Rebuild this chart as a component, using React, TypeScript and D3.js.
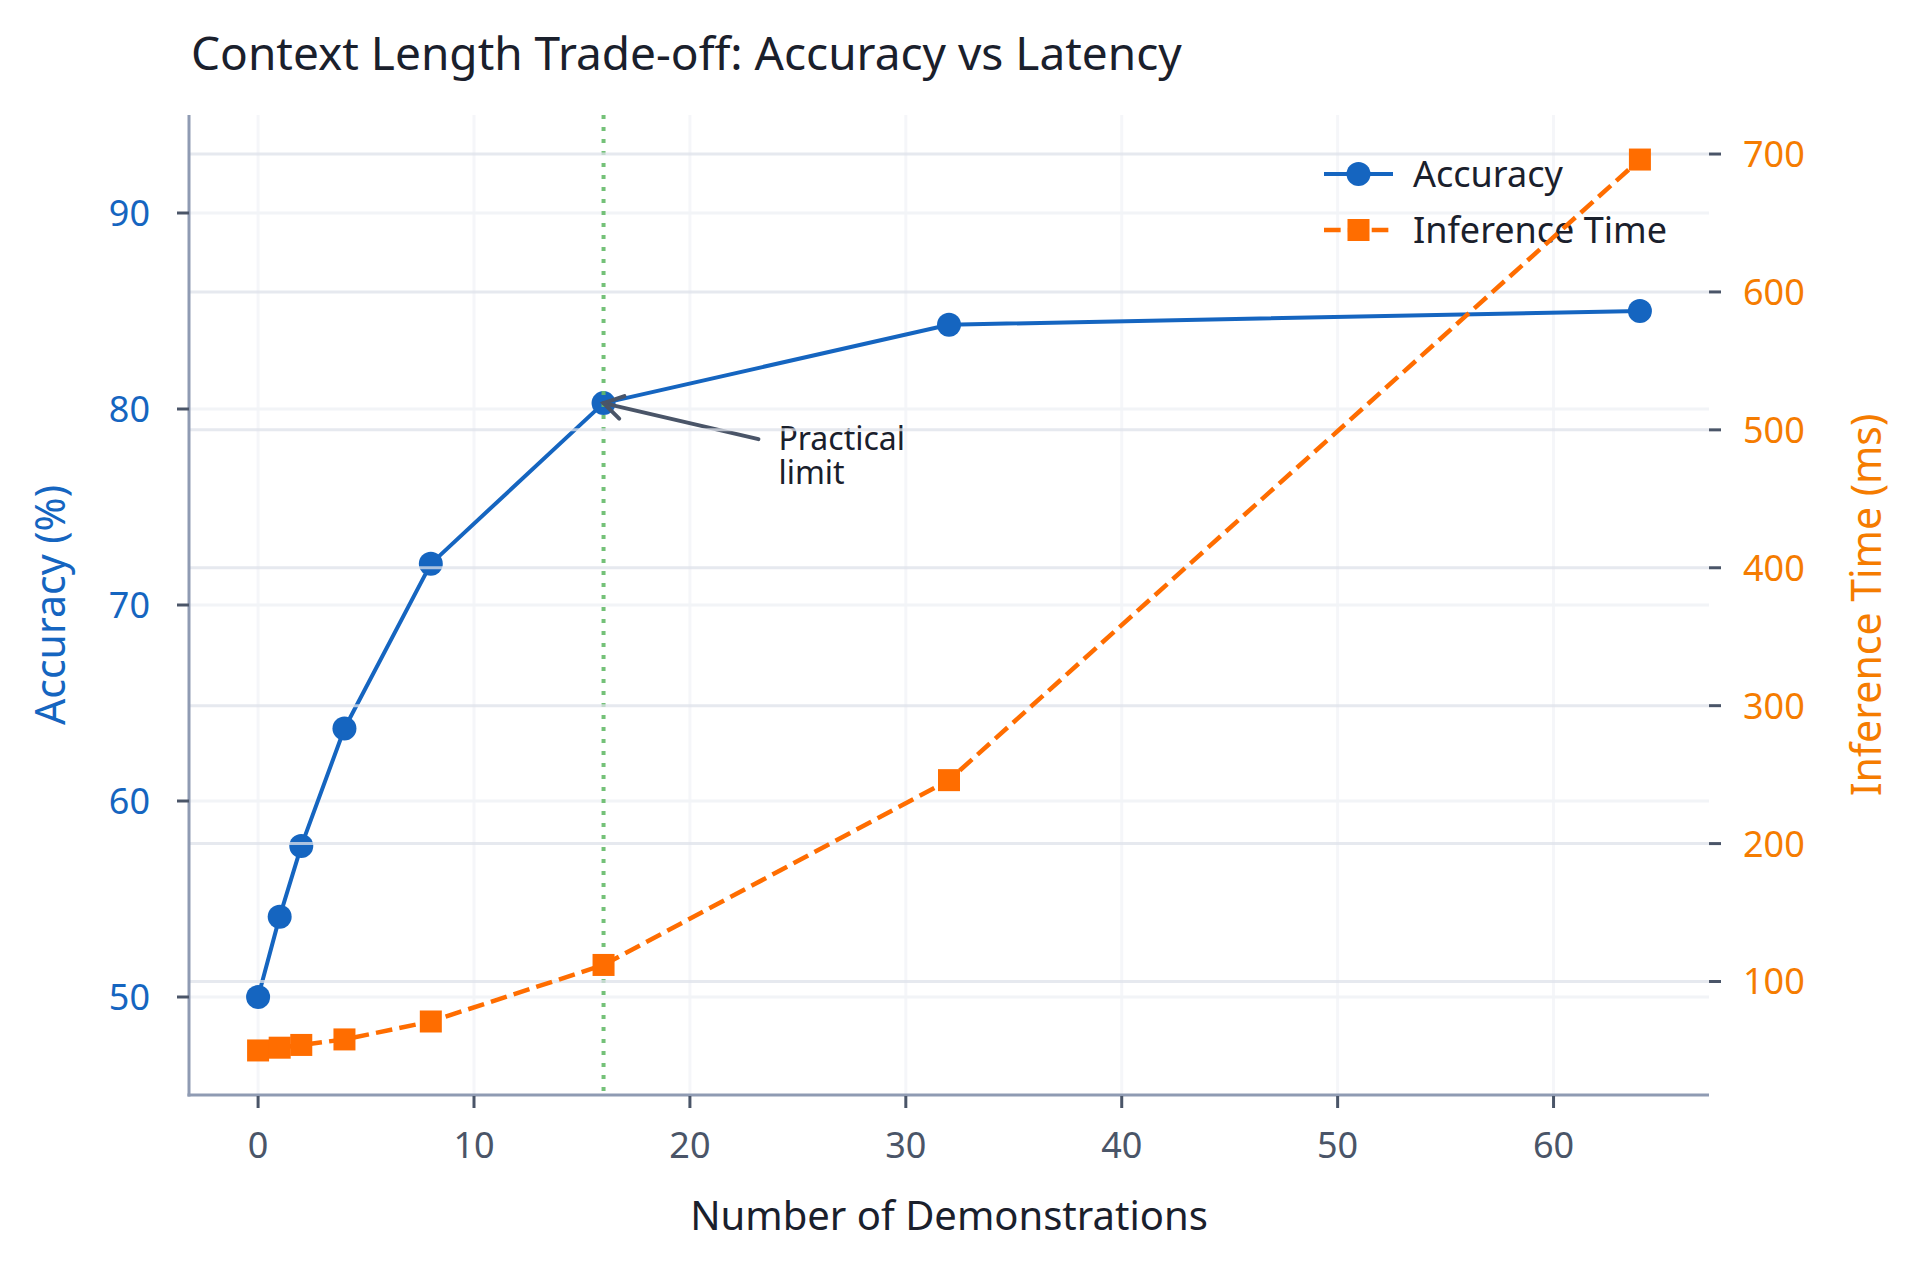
import React from "react";
import * as d3 from "d3";

// ---------- data ----------
const demos = [0, 1, 2, 4, 8, 16, 32, 64];
const accuracy = [50.0, 54.1, 57.7, 63.7, 72.1, 80.3, 84.3, 85.0];
const inferenceMs = [50, 52, 54, 58, 71, 112, 246, 696];
const xTicks = [0, 10, 20, 30, 40, 50, 60];
const accTicks = [50, 60, 70, 80, 90];
const timeTicks = [100, 200, 300, 400, 500, 600, 700];
const accDomain = [45, 95];
const practicalLimit = 16;
const annotationText = ["Practical", "limit"];
const annotationPos = { x: 24.1, y: 77.9 };
const titleText = "Context Length Trade-off: Accuracy vs Latency";
const xLabel = "Number of Demonstrations";
const yLeftLabel = "Accuracy (%)";
const yRightLabel = "Inference Time (ms)";
const legendItems = ["Accuracy", "Inference Time"];

// ---------- style ----------
const W = 1920;
const H = 1269;
const M = { left: 189, right: 1709, top: 115, bottom: 1095 };
const FONT = "'Noto Sans', 'DejaVu Sans', sans-serif";
const BLUE = "#1565C0";
const ORANGE = "#FF6D00";
const ORANGE_TXT = "#F57C00";
const DARK = "#1A202C";
const TICK = "#4A5568";
const SPINE = "#8F9BB3";

function padded(vals: number[], frac = 0.05): [number, number] {
  const [lo, hi] = d3.extent(vals) as [number, number];
  const p = (hi - lo) * frac;
  return [lo - p, hi + p];
}

export default function App() {
  const x = d3.scaleLinear().domain(padded(demos)).range([M.left, M.right]);
  const yL = d3.scaleLinear().domain(accDomain).range([M.bottom, M.top]);
  const yR = d3.scaleLinear().domain(padded(inferenceMs)).range([M.bottom, M.top]);

  const accLine = d3
    .line<number>()
    .x((_, i) => x(demos[i]))
    .y((d) => yL(d))(accuracy) as string;
  const timeLine = d3
    .line<number>()
    .x((_, i) => x(demos[i]))
    .y((d) => yR(d))(inferenceMs) as string;

  const lw = 4.5;
  const dash = `${3.7 * lw} ${1.6 * lw}`;
  const sq = 22;

  // annotation geometry
  const tipX = x(practicalLimit);
  const tipY = yL(accuracy[demos.indexOf(practicalLimit)]);
  const txtX = x(annotationPos.x);
  const txtY = yL(annotationPos.y);
  const startX = txtX - 20;
  const startY = txtY - 11;
  const ang = Math.atan2(startY - tipY, startX - tipX);
  const wing = 22;
  const w1 = [tipX + wing * Math.cos(ang + 0.55), tipY + wing * Math.sin(ang + 0.55)];
  const w2 = [tipX + wing * Math.cos(ang - 0.55), tipY + wing * Math.sin(ang - 0.55)];

  const legX1 = 1324;
  const legX2 = 1393;
  const legRows = [174, 230];

  return (
    <svg
      width={W}
      height={H}
      viewBox={`0 0 ${W} ${H}`}
      style={{ position: "absolute", left: 0, top: 0, display: "block", background: "#fff" }}
      fontFamily={FONT}
    >
      <rect x={0} y={0} width={W} height={H} fill="#fff" />

      {/* title */}
      <text x={191} y={70} fontSize={46} fill={DARK}>
        {titleText}
      </text>

      {/* vertical grid */}
      {xTicks.map((t) => (
        <line key={"vg" + t} x1={x(t)} x2={x(t)} y1={M.top} y2={M.bottom} stroke="#F5F6F9" strokeWidth={3} />
      ))}
      {/* left-axis horizontal grid */}
      {accTicks.map((t) => (
        <line key={"lg" + t} x1={M.left} x2={M.right} y1={yL(t)} y2={yL(t)} stroke="#F2F4F7" strokeWidth={3} />
      ))}

      {/* accuracy series */}
      <path d={accLine} fill="none" stroke={BLUE} strokeWidth={4} strokeLinejoin="round" />
      {accuracy.map((v, i) => (
        <circle key={"ac" + i} cx={x(demos[i])} cy={yL(v)} r={12} fill={BLUE} />
      ))}

      {/* practical limit line */}
      <line
        x1={x(practicalLimit)}
        x2={x(practicalLimit)}
        y1={M.top}
        y2={M.bottom}
        stroke="#66BB6A"
        strokeWidth={4}
        strokeDasharray="4 8"
        opacity={0.9}
      />

      {/* annotation */}
      <g stroke={TICK} strokeWidth={4} fill="none" strokeLinecap="round">
        <line x1={startX} y1={startY} x2={tipX} y2={tipY} />
        <polyline points={`${w1[0]},${w1[1]} ${tipX},${tipY} ${w2[0]},${w2[1]}`} strokeLinejoin="miter" />
      </g>
      {annotationText.map((s, i) => (
        <text key={s} x={txtX} y={txtY + i * 34.3} fontSize={32} fill={DARK}>
          {s}
        </text>
      ))}

      {/* legend */}
      <g>
        <line x1={legX1} x2={legX2} y1={legRows[0]} y2={legRows[0]} stroke={BLUE} strokeWidth={4} />
        <circle cx={(legX1 + legX2) / 2} cy={legRows[0]} r={12} fill={BLUE} />
        <line
          x1={legX1}
          x2={legX2}
          y1={legRows[1]}
          y2={legRows[1]}
          stroke={ORANGE}
          strokeWidth={lw}
          strokeDasharray={dash}
        />
        <rect
          x={(legX1 + legX2) / 2 - sq / 2}
          y={legRows[1] - sq / 2}
          width={sq}
          height={sq}
          fill={ORANGE}
        />
        {legendItems.map((s, i) => (
          <text key={s} x={1413} y={legRows[i] + 13} fontSize={36} fill={DARK}>
            {s}
          </text>
        ))}
      </g>

      {/* right-axis grid drawn over first axes */}
      {timeTicks.map((t) => (
        <line
          key={"rg" + t}
          x1={M.left}
          x2={M.right}
          y1={yR(t)}
          y2={yR(t)}
          stroke="#DDE2EA"
          strokeOpacity={0.75}
          strokeWidth={3}
        />
      ))}

      {/* inference series */}
      <path d={timeLine} fill="none" stroke={ORANGE} strokeWidth={lw} strokeDasharray={dash} />
      {inferenceMs.map((v, i) => (
        <rect
          key={"sq" + i}
          x={x(demos[i]) - sq / 2}
          y={yR(v) - sq / 2}
          width={sq}
          height={sq}
          fill={ORANGE}
        />
      ))}

      {/* spines */}
      <line x1={M.left} x2={M.left} y1={M.top} y2={M.bottom + 1.5} stroke={SPINE} strokeWidth={3} />
      <line x1={M.left - 1.5} x2={M.right} y1={M.bottom} y2={M.bottom} stroke={SPINE} strokeWidth={3} />

      {/* x ticks */}
      {xTicks.map((t) => (
        <g key={"xt" + t}>
          <line x1={x(t)} x2={x(t)} y1={M.bottom + 1} y2={M.bottom + 13} stroke={TICK} strokeWidth={3} />
          <text x={x(t)} y={1158} fontSize={36} fill={TICK} textAnchor="middle">
            {t}
          </text>
        </g>
      ))}
      {/* left ticks */}
      {accTicks.map((t) => (
        <g key={"yl" + t}>
          <line x1={M.left - 12} x2={M.left} y1={yL(t)} y2={yL(t)} stroke={TICK} strokeWidth={3} />
          <text x={150} y={yL(t)} dy="0.36em" fontSize={36} fill={BLUE} textAnchor="end">
            {t}
          </text>
        </g>
      ))}
      {/* right ticks */}
      {timeTicks.map((t) => (
        <g key={"yr" + t}>
          <line x1={M.right} x2={M.right + 12} y1={yR(t)} y2={yR(t)} stroke={TICK} strokeWidth={3} />
          <text x={1743} y={yR(t)} dy="0.36em" fontSize={36} fill={ORANGE_TXT} textAnchor="start">
            {t}
          </text>
        </g>
      ))}

      {/* axis labels */}
      <text x={(M.left + M.right) / 2} y={1230} fontSize={40} fill={DARK} textAnchor="middle">
        {xLabel}
      </text>
      <text
        transform={`translate(65, ${(M.top + M.bottom) / 2}) rotate(-90)`}
        fontSize={41}
        fill={BLUE}
        textAnchor="middle"
      >
        {yLeftLabel}
      </text>
      <text
        transform={`translate(1881, ${(M.top + M.bottom) / 2}) rotate(-90)`}
        fontSize={41}
        fill={ORANGE_TXT}
        textAnchor="middle"
      >
        {yRightLabel}
      </text>
    </svg>
  );
}
